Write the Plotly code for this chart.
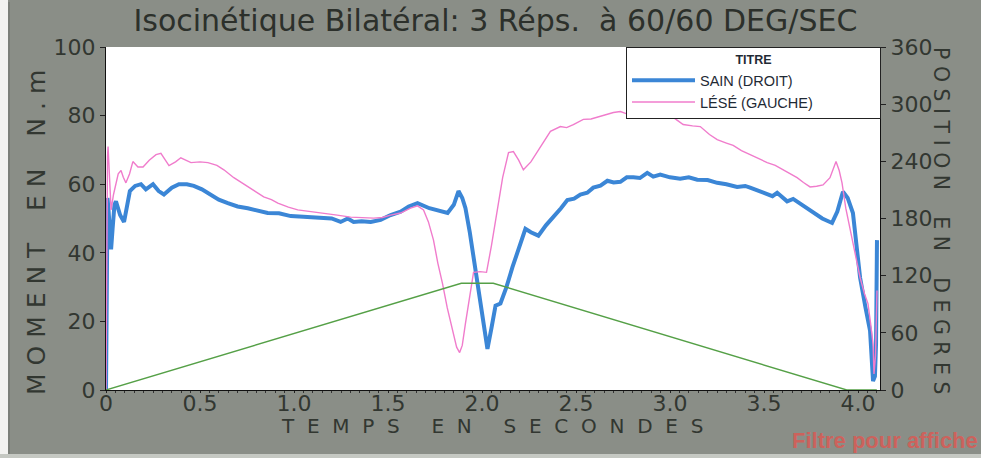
import plotly.graph_objects as go

TITLE = "Isocinétique Bilatéral: 3 Réps.  à 60/60 DEG/SEC"
SAIN_NAME = "SAIN (DROIT)"
LESE_NAME = "LÉSÉ (GAUCHE)"
LEGEND_TITLE = "TITRE"
X_TITLE = "T  E  M  P  S     E  N     S  E  C  O  N  D  E  S"
Y_TITLE = "M O M E N T    E N    N . m"
Y2_TITLE = "P O S I T I O N    E N    D E G R E S"
FOOTNOTE = "Filtre pour affiche"

# SAIN (DROIT) torque, N.m
sain_t = [0, 0.004, 0.008, 0.014, 0.02, 0.027, 0.035, 0.045, 0.053, 0.075,
          0.096, 0.11, 0.127, 0.155, 0.186, 0.212, 0.25, 0.28, 0.308, 0.35,
          0.388, 0.43, 0.467, 0.51, 0.558, 0.6, 0.648, 0.7, 0.754, 0.8,
          0.86, 0.92, 0.983, 1.05, 1.1, 1.158, 1.2, 1.248, 1.286, 1.317,
          1.36, 1.408, 1.461, 1.514, 1.567, 1.61, 1.657, 1.72, 1.78, 1.817,
          1.85, 1.875, 1.895, 1.912, 1.935, 1.955, 1.99, 2.029, 2.05, 2.072,
          2.098, 2.13, 2.162, 2.2, 2.231, 2.26, 2.3, 2.34, 2.38, 2.42,
          2.454, 2.49, 2.523, 2.56, 2.592, 2.63, 2.667, 2.7, 2.736, 2.77,
          2.805, 2.84, 2.879, 2.911, 2.948, 3.0, 3.054, 3.1, 3.145, 3.2,
          3.251, 3.3, 3.357, 3.4, 3.426, 3.47, 3.517, 3.545, 3.57, 3.6,
          3.623, 3.655, 3.7, 3.761, 3.81, 3.862, 3.89, 3.92, 3.945, 3.973,
          4.011, 4.04, 4.064, 4.08, 4.09, 4.096, 4.101]
sain_v = [0, 22, 56, 52, 44, 41, 47, 54, 55, 51,
          49, 53, 58, 59.5, 60, 58.5, 60, 58, 57, 59,
          60, 60, 59.5, 58.5, 57, 55.5, 54.5, 53.5, 53, 52.5,
          51.6, 51.5, 50.7, 50.5, 50.3, 50, 50, 49, 50, 49,
          49.2, 49, 49.6, 51, 52, 53.5, 54.5, 53, 52, 51.6,
          54, 58, 56, 53, 46, 38.7, 25, 12, 18, 24.6,
          25.2, 30, 35.8, 42, 47, 46, 45, 48, 50.4, 53,
          55.4, 55.8, 57, 57.5, 59, 59.6, 61, 60.5, 60.7, 62,
          62, 61.8, 63.3, 62.2, 62.8, 62, 61.6, 62, 61.3, 61.2,
          60.4, 60, 59.2, 59.5, 59, 58, 57, 56.5, 57.5, 56,
          55, 55.7, 54, 52, 50, 48.7, 52, 57.8, 56, 51.6,
          32.8, 24, 17.3, 2.6, 4, 13.5, 43.7]

# LÉSÉ (GAUCHE) torque, N.m
lese_t = [0, 0.004, 0.008, 0.011, 0.018, 0.027, 0.04, 0.053, 0.065, 0.08,
          0.092, 0.106, 0.125, 0.143, 0.17, 0.197, 0.23, 0.266, 0.292, 0.335,
          0.37, 0.398, 0.452, 0.5, 0.542, 0.59, 0.627, 0.68, 0.72, 0.754,
          0.8, 0.839, 0.88, 0.914, 0.97, 1.02, 1.09, 1.158, 1.23, 1.301,
          1.36, 1.424, 1.47, 1.514, 1.567, 1.62, 1.657, 1.689, 1.715, 1.742,
          1.765, 1.79, 1.815, 1.843, 1.865, 1.881, 1.895, 1.912, 1.935, 1.955,
          1.99, 2.024, 2.05, 2.082, 2.11, 2.141, 2.167, 2.195, 2.22, 2.26,
          2.295, 2.33, 2.364, 2.417, 2.45, 2.486, 2.539, 2.58, 2.614, 2.66,
          2.699, 2.736, 2.77, 2.805, 2.84, 2.879, 2.92, 2.964, 2.985, 3.017,
          3.07, 3.12, 3.161, 3.21, 3.251, 3.3, 3.336, 3.38, 3.426, 3.47,
          3.517, 3.56, 3.602, 3.64, 3.676, 3.71, 3.745, 3.78, 3.814, 3.851,
          3.883, 3.9, 3.915, 3.935, 3.958, 3.985, 4.011, 4.035, 4.053, 4.068,
          4.08, 4.085, 4.093, 4.101]
lese_v = [0, 45, 68, 71, 62, 52.5, 57, 60, 63, 64,
          62, 60.4, 63, 66.6, 65, 65, 67, 68.6, 69, 65.4,
          66.5, 67.7, 66.3, 66.5, 66.3, 65.5, 64.2, 61.9, 60.5, 59.2,
          57.5, 56.3, 55.5, 54.5, 53.3, 52.5, 52, 51.6, 51, 50.4,
          50.3, 50.1, 50.3, 51, 51.6, 53, 53.7, 52.5, 49, 43.7,
          37, 31, 24, 17.3, 12.5, 10.9, 13, 19.4, 28, 34.3,
          34.5, 34.3, 42, 52.5, 62, 69.2, 69.5, 67, 64.2, 66.5,
          69.5, 72.5, 75.4, 76.8, 76.5, 77.4, 78.9, 79, 79.5, 80.2,
          80.9, 81.2, 80.5, 80.6, 80.4, 80.9, 80.2, 79.8, 79.5, 79.5,
          77.4, 77, 76.8, 74.5, 73, 72, 71.3, 69.8, 68.6, 67.5,
          66.3, 65.5, 64.2, 63, 61.9, 60.5, 59.2, 59.4, 59.8, 61.9,
          66.6, 64, 60.4, 53, 46.6, 40, 32.8, 28, 25.2, 19,
          13.5, 4.7, 10, 29]

# Position, degrees
pos_t = [0, 1.89, 2.06, 3.94, 4.10]
pos_deg = [0, 112, 112, 0, 0]

x_tickvals = [0, 0.5, 1.0, 1.5, 2.0, 2.5, 3.0, 3.5, 4.0]
x_ticktext = ["0", "0.5", "1.0", "1.5", "2.0", "2.5", "3.0", "3.5", "4.0"]
y_tickvals = [0, 20, 40, 60, 80, 100]
y2_tickvals = [0, 60, 120, 180, 240, 300, 360]

BG = "#8a8e87"
TXT = "#323731"
W, H = 981, 458
L, R, T, B = 106, 101, 47, 68
PW, PH = W - L - R, H - T - B


def px_x(p):
    return (p - L) / PW


def px_y(p):
    return (H - B - p) / PH


fig = go.Figure()
fig.add_trace(go.Scatter(x=sain_t, y=sain_v, mode="lines", name=SAIN_NAME,
                         line=dict(color="#3b86d6", width=4)))
fig.add_trace(go.Scatter(x=lese_t, y=lese_v, mode="lines", name=LESE_NAME,
                         line=dict(color="#f07ccc", width=1.4)))
fig.add_trace(go.Scatter(x=pos_t, y=pos_deg, mode="lines", yaxis="y2",
                         showlegend=False, line=dict(color="#55a047", width=1.4)))

tickfont = dict(family="DejaVu Sans", size=22, color=TXT)
pad = "\u2002" * 17
fig.update_layout(
    width=W, height=H,
    margin=dict(l=L, r=R, t=T, b=B),
    paper_bgcolor=BG, plot_bgcolor="white",
    title=dict(text=TITLE, x=0.505, xanchor="center", y=1 - 20 / H,
               yanchor="middle", yref="container",
               font=dict(family="DejaVu Sans", size=30, color="#2c302b")),
    xaxis=dict(range=[0, 4.117], tickmode="array", tickvals=x_tickvals,
               ticktext=x_ticktext, ticks="outside", ticklen=2,
               tickcolor="#222", showline=True, linecolor="#111", linewidth=1,
               showgrid=False, zeroline=False, tickfont=tickfont,
               ticklabelstandoff=-8,
               minor=dict(dtick=0.05, ticks="outside", ticklen=2, tickcolor="#333")),
    yaxis=dict(range=[0, 100], tickmode="array", tickvals=y_tickvals,
               ticks="outside", ticklen=5, tickcolor="#222", showline=True,
               linecolor="#111", linewidth=1, showgrid=False, zeroline=False,
               tickfont=tickfont),
    yaxis2=dict(range=[0, 360], tickmode="array", tickvals=y2_tickvals,
                overlaying="y", side="right", ticks="outside", ticklen=5,
                tickcolor="#222", showline=True, linecolor="#111", linewidth=1,
                showgrid=False, zeroline=False, tickfont=tickfont),
    legend=dict(x=px_x(626), y=1, xanchor="left", yanchor="top",
                bgcolor="white", bordercolor="#222", borderwidth=1,
                font=dict(family="Liberation Sans", size=14.5, color="#1f2a35"),
                title=dict(text=pad + LEGEND_TITLE + pad, side="top center",
                           font=dict(family="Liberation Sans", size=12.5, color="#1f2a35",
                                     weight="bold")),
                itemwidth=63, tracegroupgap=0),
    showlegend=True,
)

fig.add_annotation(text=X_TITLE, xref="paper", yref="paper", x=px_x(492), y=px_y(426),
                   xanchor="center", yanchor="middle", showarrow=False,
                   font=dict(family="DejaVu Sans", size=20, color=TXT))
fig.add_annotation(text=Y_TITLE, xref="paper", yref="paper", x=px_x(36), y=px_y(233),
                   xanchor="center", yanchor="middle", showarrow=False, textangle=-90,
                   font=dict(family="DejaVu Sans", size=25, color=TXT))
fig.add_annotation(text=Y2_TITLE, xref="paper", yref="paper", x=px_x(941), y=px_y(221),
                   xanchor="center", yanchor="middle", showarrow=False, textangle=90,
                   font=dict(family="DejaVu Sans", size=20.5, color=TXT))
fig.add_annotation(text=FOOTNOTE, xref="paper", yref="paper", x=px_x(790), y=px_y(441),
                   xanchor="left", yanchor="middle", showarrow=False,
                   font=dict(family="Liberation Sans", size=22, color="#cc625c",
                             weight="bold"))

# frame edges of the scanned sheet
fig.add_shape(type="rect", xref="paper", yref="paper", x0=px_x(0), x1=px_x(8),
              y0=px_y(H), y1=px_y(0), fillcolor="#f2f2f0", line_width=0, layer="below")
fig.add_shape(type="line", xref="paper", yref="paper", x0=px_x(9), x1=px_x(9),
              y0=px_y(454), y1=px_y(2), line=dict(color="#6c706a", width=1))
fig.add_shape(type="rect", xref="paper", yref="paper", x0=px_x(0), x1=px_x(W),
              y0=px_y(H), y1=px_y(454), fillcolor="#c5c8c2", line_width=0)

fig.write_html("out.html")
